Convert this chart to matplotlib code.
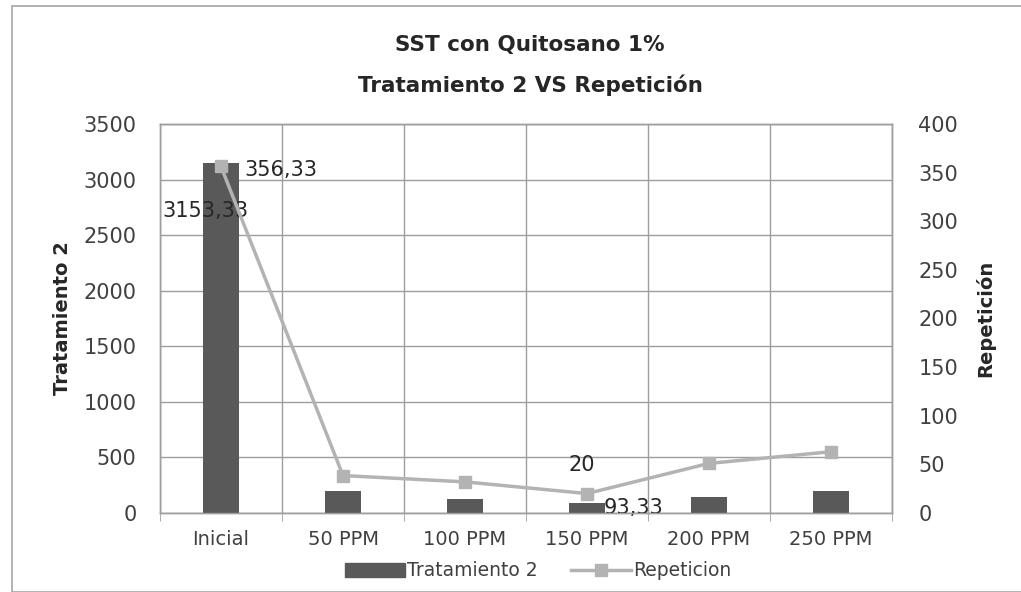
import matplotlib
matplotlib.use("Agg")
import matplotlib.pyplot as plt
from matplotlib.patches import Rectangle
from matplotlib.lines import Line2D
import numpy as np

categories = ["Inicial", "50 PPM", "100 PPM", "150 PPM", "200 PPM", "250 PPM"]
tratamiento2 = [3153.33, 200, 125, 93.33, 140, 200]
repeticion = [356.33, 38.5, 32, 20, 51, 63]
left_ticks = [0, 500, 1000, 1500, 2000, 2500, 3000, 3500]
right_ticks = [0, 50, 100, 150, 200, 250, 300, 350, 400]

plt.rcParams["font.family"] = ["DejaVu Sans"]

W, H = 1021, 592
fig = plt.figure(figsize=(W / 100, H / 100), dpi=100)
fig.patches.append(Rectangle((12 / W, 0), 1.2, 1 - 6 / H, transform=fig.transFigure,
                             fill=False, edgecolor="#a6a6a6", linewidth=1.2))

L, R, T, B = 160, 892, 124, 513
ax = fig.add_axes([L / W, 1 - B / H, (R - L) / W, (B - T) / H])
ax2 = ax.twinx()

x = np.arange(len(categories))
bar_color = "#595959"
line_color = "#b3b3b3"
grid_color = "#9e9e9e"
txt = "#262626"

ax.bar(x, tratamiento2, width=0.29, color=bar_color, zorder=3)
ax.set_xlim(-0.5, len(categories) - 0.5)
ax.set_ylim(0, 3500)
ax.set_yticks(left_ticks)
ax.set_xticks(x)
ax.set_xticklabels(categories)
ax.set_xticks(np.arange(-0.5, len(categories), 1), minor=True)
ax.grid(True, axis="y", color=grid_color, linewidth=1)
ax.grid(True, axis="x", which="minor", color=grid_color, linewidth=1)
ax.tick_params(axis="x", which="major", length=0, pad=12, labelsize=14, colors="#404040")
ax.tick_params(axis="x", which="minor", length=6, color=grid_color)
ax.tick_params(axis="y", length=0, pad=17, labelsize=15, colors="#404040")
ax.set_axisbelow(True)

ax2.plot(x, repeticion, color=line_color, linewidth=2.5, marker="s", markersize=9,
         markerfacecolor=line_color, markeredgecolor=line_color, zorder=4)
ax2.set_ylim(0, 400)
ax2.set_yticks(right_ticks)
ax2.tick_params(axis="y", length=0, pad=19, labelsize=15, colors="#404040")

for a in (ax, ax2):
    for s in a.spines.values():
        s.set_color(grid_color)
        s.set_linewidth(1)

ax.set_ylabel("Tratamiento 2", fontsize=14, fontweight="bold", color=txt, labelpad=8)
ax2.set_ylabel("Repetición", fontsize=14, fontweight="bold", color=txt, labelpad=12)

# data labels
ax.annotate(f"{tratamiento2[0]:.2f}".replace(".", ","), (x[0], tratamiento2[0]),
            xytext=(-42, -39), textcoords="offset points", fontsize=15, color=txt)
ax2.annotate(f"{repeticion[0]:.2f}".replace(".", ","), (x[0], repeticion[0]),
             xytext=(17, -7), textcoords="offset points", fontsize=15, color=txt)
ax2.annotate(f"{repeticion[3]:g}", (x[3], repeticion[3]),
             xytext=(-13, 16), textcoords="offset points", fontsize=15, color=txt)
ax.annotate(f"{tratamiento2[3]:.2f}".replace(".", ","), (x[3], tratamiento2[3]),
            xytext=(12, -8), textcoords="offset points", fontsize=15, color=txt)

fig.text(530 / W, 1 - 45 / H, "SST con Quitosano 1%", ha="center", va="center",
         fontsize=15.5, fontweight="bold", color=txt)
fig.text(530 / W, 1 - 85 / H, "Tratamiento 2 VS Repetición", ha="center", va="center",
         fontsize=15.5, fontweight="bold", color=txt)

handles = [Rectangle((0, 0), 1, 1, color=bar_color),
           Line2D([0], [0], color=line_color, linewidth=2.5, marker="s", markersize=9)]
fig.legend(handles, ["Tratamiento 2", "Repeticion"], loc="center",
           bbox_to_anchor=(538 / W, 1 - 571 / H), ncol=2, frameon=False,
           fontsize=13.5, handlelength=3.2, handletextpad=0.1, columnspacing=1.8,
           labelcolor="#404040")

fig.savefig("out.png", dpi=100)
